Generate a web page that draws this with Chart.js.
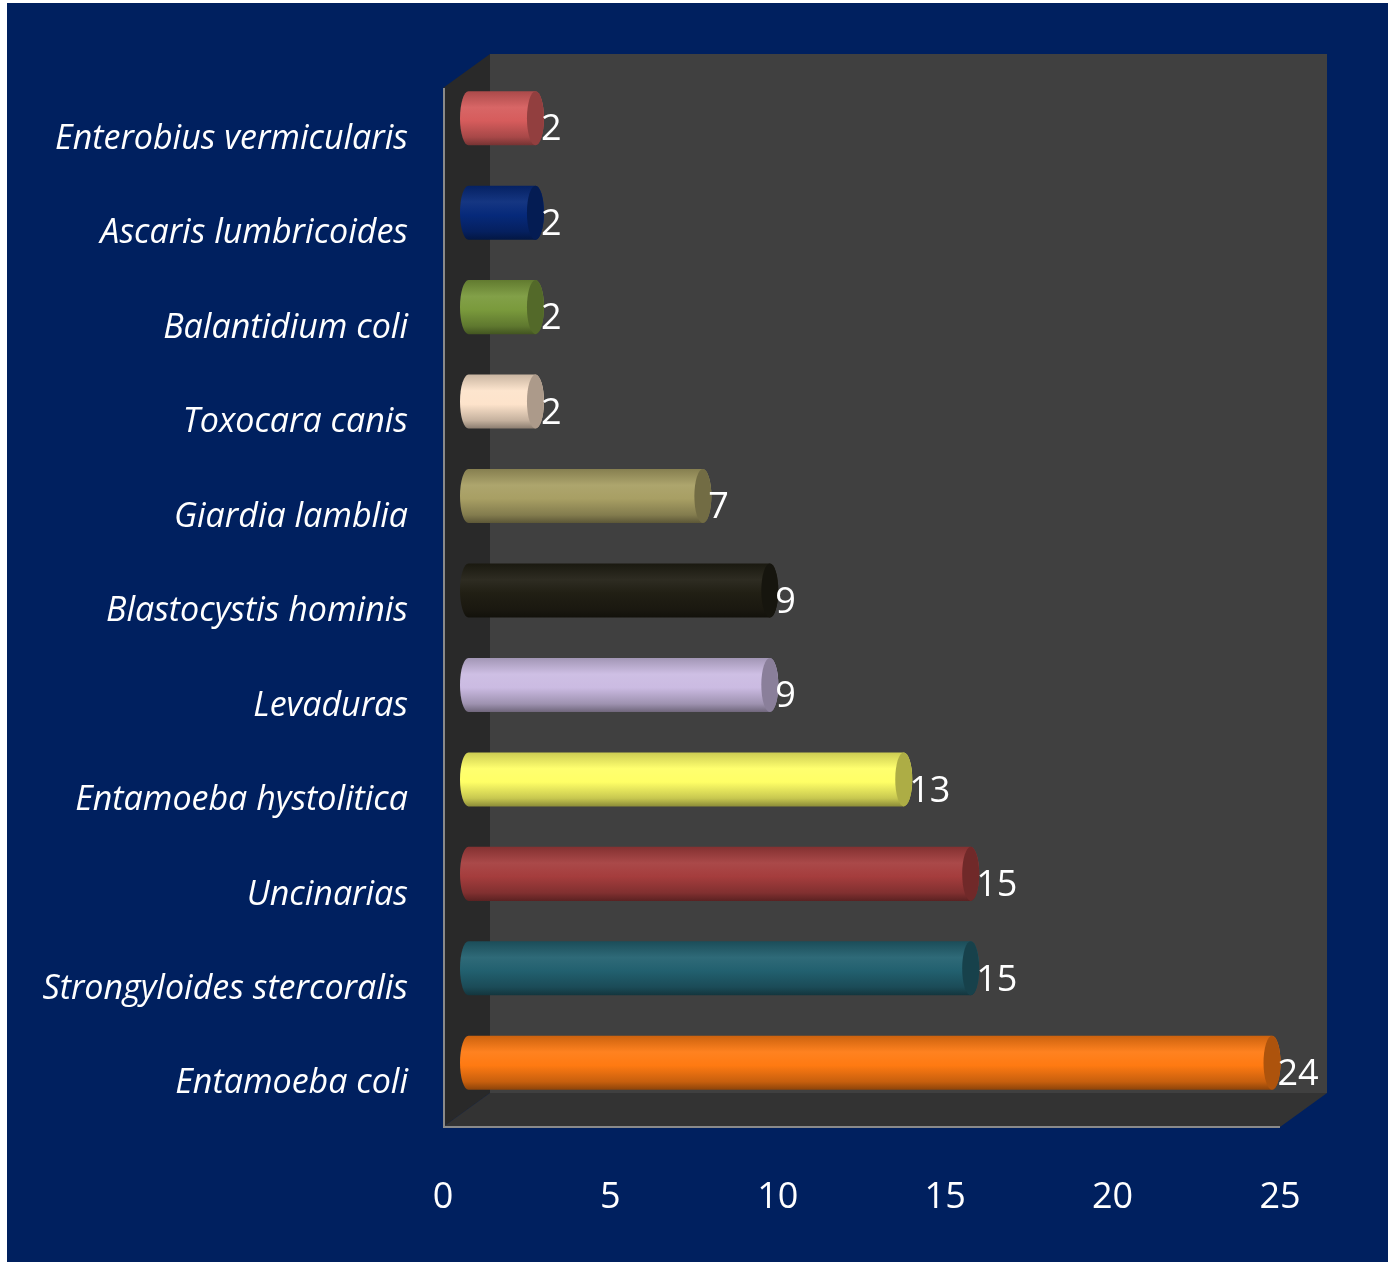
<!DOCTYPE html>
<html lang="es">
<head>
  <meta charset="UTF-8">
  <title>Parásitos</title>
  <style>
    html, body { margin: 0; padding: 0; background: #ffffff; }
    #wrap { width: 1391px; height: 1262px; }
  </style>
</head>
<body>
  <div id="wrap"><canvas id="barChart" width="1391" height="1262"></canvas></div>

  <script src="https://cdn.jsdelivr.net/npm/chart.js@4.4.0/dist/chart.umd.min.js"></script>
  <script>
    // datos
    const species = [
      'Enterobius vermicularis',
      'Ascaris lumbricoides',
      'Balantidium coli',
      'Toxocara canis',
      'Giardia lamblia',
      'Blastocystis hominis',
      'Levaduras',
      'Entamoeba hystolitica',
      'Uncinarias',
      'Strongyloides stercoralis',
      'Entamoeba coli'
    ];
    const counts = [2, 2, 2, 2, 7, 9, 9, 13, 15, 15, 24];
    const xTicks = [0, 5, 10, 15, 20, 25];

    const barColors = ['#d65c5c', '#06297a', '#7a9a3c', '#fde3cb', '#a89f64', '#211f14',
                       '#cbbbe2', '#ffff66', '#a53d3d', '#22606f', '#ff7a12'];

    // profundidad del cuadro 3D
    const DX = 47, DY = -34;

    function shade(hex, f) {
      const n = parseInt(hex.slice(1), 16);
      let r = (n >> 16) & 255, g = (n >> 8) & 255, b = n & 255;
      const m = c => Math.max(0, Math.min(255, Math.round(f > 1 ? c + (255 - c) * (f - 1) : c * f)));
      return `rgb(${m(r)},${m(g)},${m(b)})`;
    }

    const frame = {
      id: 'frame',
      beforeDraw(chart) {
        const ctx = chart.ctx;
        ctx.save();
        ctx.fillStyle = '#ffffff';
        ctx.fillRect(0, 0, chart.width, chart.height);
        ctx.fillStyle = '#00205f';
        ctx.fillRect(7, 3, 1381, chart.height - 3);
        ctx.restore();
      },
      beforeDatasetsDraw(chart) {
        const { ctx, chartArea: a } = chart;
        const L = a.left, R = a.right, T = a.top, B = a.bottom;
        ctx.save();
        // pared del fondo
        ctx.fillStyle = '#404040';
        ctx.fillRect(L + DX, T + DY, R - L, B - T);
        // pared izquierda
        ctx.fillStyle = '#292929';
        ctx.beginPath();
        ctx.moveTo(L, T); ctx.lineTo(L + DX, T + DY); ctx.lineTo(L + DX, B + DY); ctx.lineTo(L, B);
        ctx.closePath(); ctx.fill();
        // piso
        ctx.fillStyle = '#333333';
        ctx.beginPath();
        ctx.moveTo(L, B); ctx.lineTo(L + DX, B + DY); ctx.lineTo(R + DX, B + DY); ctx.lineTo(R, B);
        ctx.closePath(); ctx.fill();
        // ejes
        ctx.strokeStyle = '#8a8a8a';
        ctx.lineWidth = 2;
        ctx.beginPath();
        ctx.moveTo(L + 1, T); ctx.lineTo(L + 1, B); ctx.lineTo(R, B);
        ctx.stroke();
        ctx.restore();
      },
      afterDatasetsDraw(chart) {
        const ctx = chart.ctx;
        const meta = chart.getDatasetMeta(0);
        const ox = DX / 2 + 2, oy = DY / 2;
        ctx.save();
        meta.data.forEach((bar, i) => {
          const col = barColors[i];
          const h = bar.height;
          const y0 = bar.y - h / 2 + oy, y1 = bar.y + h / 2 + oy;
          const xs = bar.base + ox, xe = bar.x + ox;
          const rx = 8.5;
          const g = ctx.createLinearGradient(0, y0, 0, y1);
          g.addColorStop(0, shade(col, 0.8));
          g.addColorStop(0.3, shade(col, 1.06));
          g.addColorStop(0.55, shade(col, 1.0));
          g.addColorStop(0.85, shade(col, 0.78));
          g.addColorStop(1, shade(col, 0.55));
          // cuerpo
          ctx.fillStyle = g;
          ctx.beginPath();
          ctx.ellipse(xs, bar.y + oy, rx, h / 2, 0, Math.PI / 2, Math.PI * 1.5);
          ctx.lineTo(xe, y0);
          ctx.ellipse(xe, bar.y + oy, rx, h / 2, 0, -Math.PI / 2, Math.PI / 2);
          ctx.closePath();
          ctx.fill();
          // tapa
          ctx.fillStyle = shade(col, 0.68);
          ctx.beginPath();
          ctx.ellipse(xe, bar.y + oy, rx, h / 2, 0, 0, Math.PI * 2);
          ctx.fill();
          // valor
          ctx.fillStyle = '#ffffff';
          ctx.font = '36px "Open Sans"';
          ctx.textAlign = 'left';
          ctx.textBaseline = 'middle';
          ctx.fillText(String(counts[i]), xe + rx - 3, bar.y + oy + 12);
        });
        ctx.restore();
      }
    };

    new Chart(document.getElementById('barChart').getContext('2d'), {
      type: 'bar',
      data: {
        labels: species,
        datasets: [{
          data: counts,
          backgroundColor: 'rgba(0,0,0,0)',
          borderWidth: 0,
          barPercentage: 0.572,
          categoryPercentage: 1
        }]
      },
      options: {
        indexAxis: 'y',
        responsive: false,
        animation: false,
        layout: { padding: { left: 0, right: 111, top: 88, bottom: 35 } },
        scales: {
          x: {
            min: 0,
            max: 25,
            afterFit: s => { s.height = 100; },
            afterBuildTicks: s => { s.ticks = xTicks.map(v => ({ value: v })); },
            grid: { display: false, drawTicks: false },
            border: { display: false },
            ticks: { color: '#ffffff', padding: 49, font: { family: 'Open Sans', size: 36 } }
          },
          y: {
            afterFit: s => { s.width = 443; },
            grid: { display: false, drawTicks: false },
            border: { display: false },
            ticks: { color: '#ffffff', padding: 35, labelOffset: 4, font: { family: 'Open Sans', size: 34, style: 'italic' } }
          }
        },
        plugins: {
          legend: { display: false },
          tooltip: { enabled: false }
        }
      },
      plugins: [frame]
    });
  </script>
</body>
</html>
